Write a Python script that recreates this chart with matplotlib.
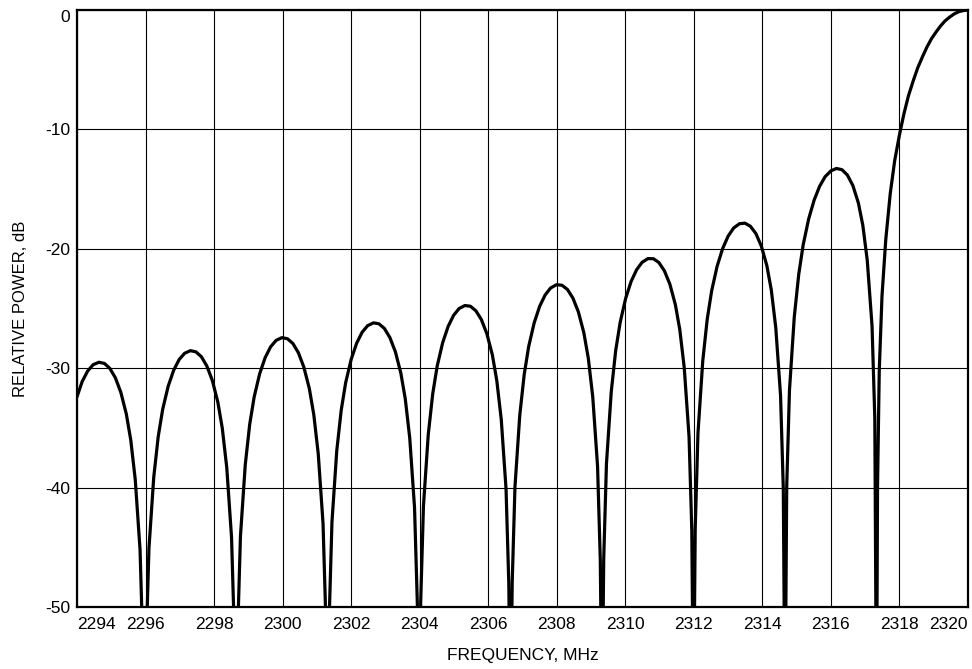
import matplotlib
matplotlib.use("Agg")
import matplotlib.pyplot as plt

plt.rcParams["font.family"] = ["Liberation Sans", "DejaVu Sans"]
plt.rcParams["axes.unicode_minus"] = False

# Spectrum, ordered by frequency.
# -60 marks a null that falls below the bottom of the axes.
NULL_DB = -60.0

freq_mhz = [
    # partial sidelobe at the left edge
    2294.00, 2294.15, 2294.31, 2294.47, 2294.64, 2294.80, 2294.96, 2295.12, 2295.28, 2295.44,
    2295.57, 2295.70, 2295.84, 2295.92,
    2295.97,
    2296.02, 2296.10, 2296.24, 2296.37, 2296.50, 2296.66, 2296.82, 2296.98, 2297.14, 2297.31,
    2297.47, 2297.63, 2297.79, 2297.95, 2298.11, 2298.24, 2298.37, 2298.51, 2298.59,
    2298.64,
    2298.69, 2298.77, 2298.91, 2299.04, 2299.17, 2299.33, 2299.49, 2299.65, 2299.81, 2299.98,
    2300.14, 2300.30, 2300.46, 2300.62, 2300.78, 2300.91, 2301.04, 2301.18, 2301.26,
    2301.31,
    2301.36, 2301.44, 2301.58, 2301.71, 2301.84, 2302.00, 2302.16, 2302.32, 2302.48, 2302.65,
    2302.81, 2302.97, 2303.13, 2303.29, 2303.45, 2303.58, 2303.71, 2303.85, 2303.93,
    2303.98,
    2304.03, 2304.11, 2304.25, 2304.38, 2304.51, 2304.67, 2304.83, 2304.99, 2305.15, 2305.32,
    2305.48, 2305.64, 2305.80, 2305.96, 2306.12, 2306.25, 2306.38, 2306.52, 2306.60,
    2306.65,
    2306.70, 2306.78, 2306.92, 2307.05, 2307.18, 2307.34, 2307.50, 2307.66, 2307.82, 2307.99,
    2308.15, 2308.31, 2308.47, 2308.63, 2308.79, 2308.92, 2309.05, 2309.19, 2309.27,
    2309.32,
    2309.37, 2309.45, 2309.59, 2309.72, 2309.85, 2310.01, 2310.17, 2310.33, 2310.49, 2310.66,
    2310.82, 2310.98, 2311.14, 2311.30, 2311.46, 2311.59, 2311.72, 2311.86, 2311.94,
    2311.99,
    2312.04, 2312.12, 2312.26, 2312.39, 2312.52, 2312.68, 2312.84, 2313.00, 2313.16, 2313.33,
    2313.49, 2313.65, 2313.81, 2313.97, 2314.13, 2314.26, 2314.39, 2314.53, 2314.61,
    2314.66,
    2314.71, 2314.79, 2314.93, 2315.06, 2315.19, 2315.35, 2315.51, 2315.67, 2315.83, 2316.00,
    2316.16, 2316.32, 2316.48, 2316.64, 2316.80, 2316.93, 2317.06, 2317.20, 2317.28,
    2317.33,
    # main lobe
    2317.36, 2317.41, 2317.49, 2317.60, 2317.73, 2317.86, 2318.00, 2318.13, 2318.26, 2318.40,
    2318.53, 2318.67, 2318.80, 2318.93, 2319.07, 2319.20, 2319.33, 2319.47, 2319.60, 2319.73,
    2319.87, 2320.00,
]

power_db = [
    -32.40, -31.13, -30.24, -29.71, -29.50, -29.60, -30.02, -30.80, -32.03, -33.84,
    -36.03, -39.32, -45.19, -53.09,
    NULL_DB,
    -53.05, -45.09, -39.13, -35.74, -33.45, -31.52, -30.18, -29.28, -28.75, -28.53,
    -28.63, -29.04, -29.82, -31.03, -32.84, -35.03, -38.31, -44.17, -52.07,
    NULL_DB,
    -52.02, -44.06, -38.10, -34.70, -32.41, -30.47, -29.12, -28.21, -27.67, -27.44,
    -27.53, -27.93, -28.70, -29.91, -31.71, -33.89, -37.17, -43.02, -50.91,
    NULL_DB,
    -50.86, -42.89, -36.92, -33.52, -31.21, -29.27, -27.91, -26.99, -26.44, -26.20,
    -26.28, -26.67, -27.43, -28.62, -30.41, -32.58, -35.85, -41.69, -49.58,
    NULL_DB,
    -49.52, -41.54, -35.56, -32.15, -29.83, -27.87, -26.50, -25.57, -25.00, -24.75,
    -24.81, -25.19, -25.93, -27.11, -28.88, -31.04, -34.29, -40.12, -48.00,
    NULL_DB,
    -47.93, -39.95, -33.95, -30.52, -28.19, -26.21, -24.82, -23.87, -23.28, -23.01,
    -23.05, -23.40, -24.12, -25.28, -27.03, -29.16, -32.40, -38.20, -46.07,
    NULL_DB,
    -45.98, -37.99, -31.96, -28.51, -26.16, -24.15, -22.73, -21.75, -21.13, -20.82,
    -20.83, -21.15, -21.84, -22.96, -24.67, -26.77, -29.97, -35.74, -43.58,
    NULL_DB,
    -43.47, -35.45, -29.39, -25.90, -23.51, -21.45, -19.98, -18.94, -18.26, -17.90,
    -17.85, -18.11, -18.72, -19.78, -21.41, -23.45, -26.59, -32.29, -40.09,
    NULL_DB,
    -39.92, -31.85, -25.72, -22.15, -19.67, -17.50, -15.92, -14.76, -13.96, -13.47,
    -13.27, -13.37, -13.82, -14.70, -16.15, -18.02, -20.97, -26.48, -34.16,
    NULL_DB,
    -39.91, -30.21, -23.95, -19.23, -15.39, -12.62, -10.45, -8.69, -7.20, -5.94,
    -4.86, -3.92, -3.11, -2.42, -1.83, -1.33, -0.91, -0.58, -0.32, -0.14,
    -0.04, 0.00,
]

x_ticks = [2294, 2296, 2298, 2300, 2302, 2304, 2306, 2308, 2310, 2312, 2314, 2316, 2318, 2320]
y_ticks = [0, -10, -20, -30, -40, -50]

fig = plt.figure(figsize=(9.72, 6.69), dpi=100)
ax = fig.add_axes([0.0792, 0.0927, 0.9167, 0.8923])

ax.plot(freq_mhz, power_db, color="black", linewidth=2.3,
        solid_joinstyle="round", solid_capstyle="round")

ax.set_xlim(2294, 2320)
ax.set_ylim(-50, 0)
ax.set_xticks(x_ticks)
ax.set_xticklabels([str(t) for t in x_ticks])
ax.set_yticks(y_ticks)
ax.set_yticklabels([str(t) for t in y_ticks])

ax.grid(True, color="black", linewidth=0.8)
ax.set_axisbelow(True)
for spine in ax.spines.values():
    spine.set_linewidth(1.6)

ax.tick_params(axis="both", length=0, labelsize=12.5)
ax.tick_params(axis="x", pad=7)
ax.tick_params(axis="y", pad=5)

# edge labels sit inside the frame like in the original
xlabels = ax.get_xticklabels()
xlabels[0].set_horizontalalignment("left")
xlabels[-1].set_horizontalalignment("right")
ylabels = ax.get_yticklabels()
ylabels[0].set_verticalalignment("top")

ax.set_xlabel("FREQUENCY, MHz", fontsize=12.5, labelpad=12)
ax.set_ylabel("RELATIVE POWER, dB", fontsize=12)
ax.yaxis.set_label_coords(-0.055, 0.5)

fig.savefig("out.png", dpi=100)
